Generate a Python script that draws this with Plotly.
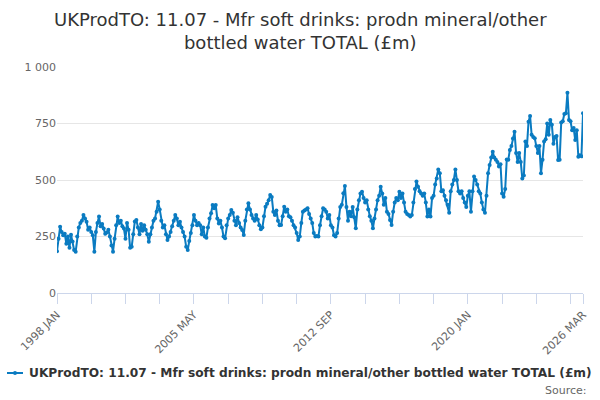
import plotly.graph_objects as go

# monthly values (£m), 1998 JAN .. 2026 MAR
years = list(range(1998, 2027))
month_names = ["JAN", "FEB", "MAR", "APR", "MAY", "JUN",
               "JUL", "AUG", "SEP", "OCT", "NOV", "DEC"]

values = [
    # 1998
    185, 240, 293, 270, 255, 262, 218, 250, 200, 258, 228, 190,
    # 1999
    183, 250, 290, 310, 320, 345, 330, 315, 280, 290, 270, 255,
    # 2000
    183, 270, 310, 338, 295, 305, 285, 262, 268, 280, 250, 210,
    # 2001
    183, 240, 300, 338, 310, 320, 295, 285, 240, 310, 280, 200,
    # 2002
    205, 260, 316, 323, 290, 260, 305, 275, 300, 280, 260, 227,
    # 2003
    260, 290, 320, 330, 360, 404, 370, 320, 290, 300, 260, 234,
    # 2004
    250, 270, 295, 320, 345, 330, 300, 315, 290, 270, 250, 205,
    # 2005
    190, 230, 265, 300, 345, 320, 300, 310, 300, 260, 290, 250,
    # 2006
    245, 290, 330, 353, 389, 375, 389, 330, 308, 320, 290, 250,
    # 2007
    242, 300, 330, 345, 367, 355, 320, 300, 335, 310, 290, 279,
    # 2008
    257, 320, 370, 397, 370, 345, 330, 320, 345, 325, 300, 282,
    # 2009
    290, 340, 382, 395, 410, 434, 425, 360, 345, 365, 320, 300,
    # 2010
    301, 340, 382, 360, 370, 340, 335, 320, 300, 290, 265, 234,
    # 2011
    250, 310, 360, 365, 370, 375, 350, 330, 310, 265, 250, 252,
    # 2012
    250, 300, 340, 375, 370, 360, 330, 345, 300, 290, 255, 250,
    # 2013
    265, 330, 380, 390, 441, 473, 380, 320, 360, 340, 380, 335,
    # 2014
    286, 370, 410, 440, 448, 420, 400, 410, 370, 340, 320, 286,
    # 2015
    330, 370, 410, 430, 470, 440, 390, 420, 360, 350, 323, 301,
    # 2016
    360, 400, 420, 410, 448, 420, 440, 400, 360, 350, 345, 338,
    # 2017
    345, 400, 460, 493, 470, 450, 440, 430, 440, 400, 338, 370,
    # 2018
    338, 420, 430, 480, 507, 547, 530, 450, 455, 430, 410, 390,
    # 2019
    355, 450, 480, 500, 547, 500, 450, 440, 450, 420, 400, 380,
    # 2020
    430, 450, 360, 450, 515, 500, 480, 450, 440, 400, 370, 355,
    # 2021
    430, 530, 566, 600, 625, 600, 590, 580, 560, 570, 440, 426,
    # 2022
    460, 591, 590, 633, 650, 684, 714, 620, 580, 620, 580, 507,
    # 2023
    520, 670, 650, 758, 783, 700, 690, 685, 650, 620, 650, 530,
    # 2024
    590, 670, 680, 750, 700, 765, 745, 660, 690, 695, 588, 590,
    # 2025
    754, 760, 792, 795, 886, 765, 760, 720, 730, 677, 720, 603,
    # 2026
    610, 605, 795,
]

months = [f"{y} {m}" for y in years for m in month_names][:len(values)]

# tick marks every 22 months plus the last month; labels every 4th tick
tick_pos = list(range(0, len(months), 22)) + [len(months) - 1]
tick_vals = [months[i] for i in tick_pos]
tick_text = [months[i] if (i % 88 == 0 or i == len(months) - 1) else "" for i in tick_pos]

y_ticks = [0, 250, 500, 750, 1000]
y_text = ["0", "250", "500", "750", "1 000"]

series_name = "UKProdTO: 11.07 - Mfr soft drinks: prodn mineral/other bottled water TOTAL (£m)"
title_text = "UKProdTO: 11.07 - Mfr soft drinks: prodn mineral/other<br>bottled water TOTAL (£m)"
color = "#0a7bc1"

fig = go.Figure(go.Scatter(
    x=months, y=values, mode="lines+markers",
    name=series_name,
    line=dict(color=color, width=2),
    marker=dict(color=color, size=4),
))

# plot area spans x 57..583, y 67..293 px -> paper coords for texts outside it
W, H = 600, 400
L, R, T, B = 57, 17, 67, 107
pw, ph = W - L - R, H - T - B


def px(x):
    return (x - L) / pw


def py(y):
    return (H - B - y) / ph


fig.update_layout(
    width=W, height=H,
    paper_bgcolor="white", plot_bgcolor="white",
    font=dict(family="DejaVu Sans", color="#333333"),
    margin=dict(l=L, r=R, t=T, b=B),
    showlegend=False,
    annotations=[
        dict(text=title_text, xref="paper", yref="paper", x=px(300), y=py(31),
             xanchor="center", yanchor="middle", showarrow=False,
             font=dict(size=18, color="#333333")),
        dict(text="<b>" + series_name + "</b>", xref="paper", yref="paper",
             x=px(27), y=py(373), xanchor="left", yanchor="middle", showarrow=False,
             font=dict(size=12.2, color="#333333")),
        dict(text="Source:", xref="paper", yref="paper", x=px(589), y=py(390),
             xanchor="right", yanchor="middle", showarrow=False,
             font=dict(size=11, color="#666666")),
    ],
    shapes=[
        dict(type="line", xref="paper", yref="paper", x0=px(7), x1=px(23),
             y0=py(373), y1=py(373), line=dict(color=color, width=2)),
        dict(type="circle", xref="paper", yref="paper", x0=px(13), x1=px(17),
             y0=py(375), y1=py(371), fillcolor=color, line=dict(color=color, width=0)),
    ],
)

fig.update_xaxes(
    type="category", range=[0, len(months) - 1],
    tickmode="array", tickvals=tick_vals, ticktext=tick_text,
    tickangle=-45, tickfont=dict(size=11, color="#666666"),
    ticks="outside", ticklen=10, tickcolor="#ccd6eb",
    showline=True, linecolor="#ccd6eb", linewidth=1,
    showgrid=False, zeroline=False, automargin=False,
)
fig.update_yaxes(
    range=[0, 1000], tickmode="array", tickvals=y_ticks, ticktext=y_text,
    tickfont=dict(size=11, color="#666666"),
    gridcolor="#e6e6e6", zeroline=False, showline=False, ticks="",
    automargin=False,
)

fig.write_html("out.html", config={"displayModeBar": False},
               post_script="document.body.style.margin='0px';")
